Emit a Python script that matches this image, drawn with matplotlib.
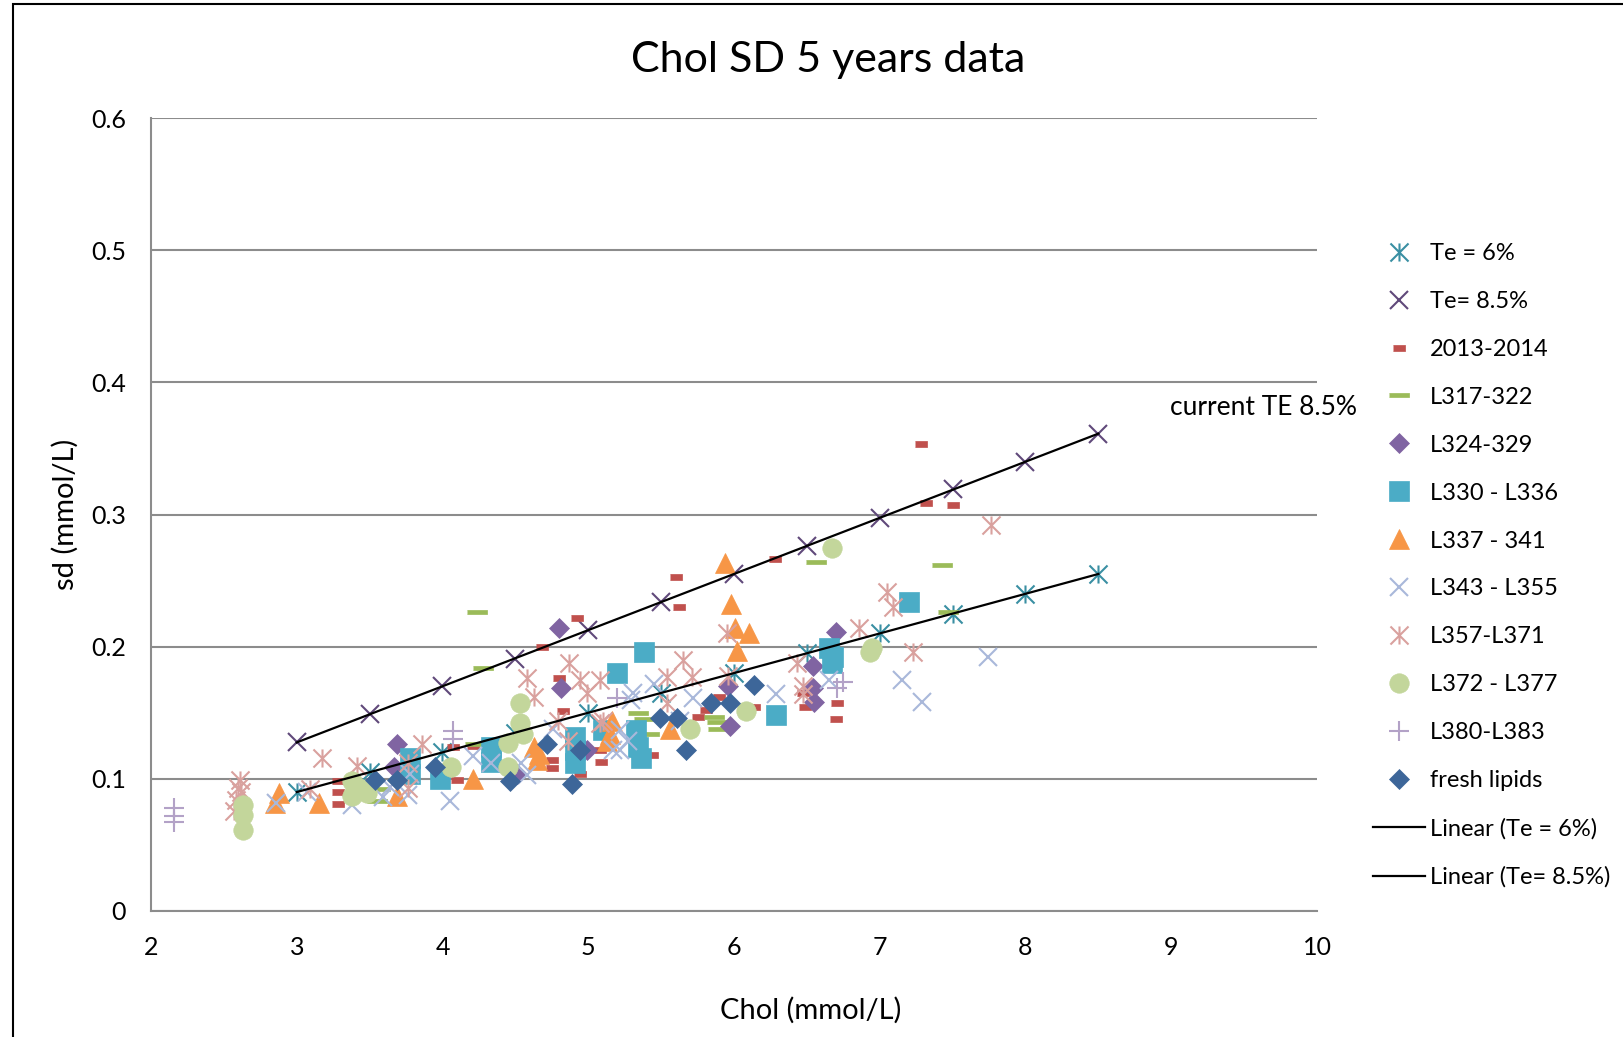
import numpy as np
import matplotlib
matplotlib.use("Agg")
import matplotlib.pyplot as plt
from matplotlib.path import Path
from matplotlib.patches import Rectangle

plt.rcParams['font.family'] = ['Lato', 'DejaVu Sans']

# data (Chol mmol/L, sd mmol/L)
te6_x = [3, 3.5, 4, 4.5, 5, 5.5, 6, 6.5, 7, 7.5, 8, 8.5]
te6_y = [0.09, 0.105, 0.12, 0.135, 0.15, 0.165, 0.18, 0.195, 0.21, 0.225, 0.24, 0.255]
te85_x = [3, 3.5, 4, 4.5, 5, 5.5, 6, 6.5, 7, 7.5, 8, 8.5]
te85_y = [0.1275, 0.149, 0.17, 0.191, 0.2125, 0.234, 0.255, 0.276, 0.2975, 0.319, 0.34, 0.361]

y1314_x = [3.28, 3.28, 3.28, 4.07, 4.10, 4.21, 4.68, 4.75, 4.75, 4.80, 4.83, 4.92, 4.94, 5.08, 5.09,
           5.44, 5.60, 5.62, 5.75, 5.81, 5.90, 6.14, 6.28, 6.47, 6.49, 6.71, 6.70, 7.28, 7.32, 7.50]
y1314_y = [0.098, 0.090, 0.081, 0.124, 0.099, 0.125, 0.200, 0.114, 0.108, 0.176, 0.151, 0.222, 0.104, 0.122, 0.113,
           0.118, 0.253, 0.230, 0.147, 0.152, 0.162, 0.154, 0.266, 0.165, 0.154, 0.157, 0.145, 0.353, 0.309, 0.307]

l317_x = [3.57, 3.55, 4.22, 4.24, 4.28, 5.34, 5.38, 5.42, 5.86, 5.88, 5.89, 6.56, 7.43, 7.47]
l317_y = [0.092, 0.083, 0.126, 0.226, 0.184, 0.150, 0.145, 0.134, 0.147, 0.143, 0.138, 0.264, 0.262, 0.226]

l324_x = [3.69, 3.67, 4.51, 4.80, 4.81, 4.99, 5.96, 5.97, 6.54, 6.54, 6.55, 6.70]
l324_y = [0.126, 0.109, 0.104, 0.214, 0.169, 0.122, 0.170, 0.140, 0.185, 0.169, 0.158, 0.211]

l330_x = [3.78, 3.78, 3.98, 4.33, 4.33, 4.91, 4.91, 4.91, 5.10, 5.20, 5.33, 5.34, 5.36, 5.38,
          6.29, 6.65, 6.68, 6.67, 7.20]
l330_y = [0.116, 0.104, 0.100, 0.124, 0.113, 0.132, 0.122, 0.112, 0.137, 0.180, 0.137, 0.124, 0.116, 0.196,
          0.148, 0.199, 0.192, 0.188, 0.234]

l337_x = [2.85, 2.88, 3.15, 3.69, 4.21, 4.63, 4.65, 4.66, 5.13, 5.16, 5.15, 5.56, 5.94, 5.98, 6.01, 6.10, 6.02]
l337_y = [0.082, 0.089, 0.082, 0.087, 0.100, 0.124, 0.114, 0.119, 0.129, 0.144, 0.134, 0.138, 0.263, 0.232,
          0.214, 0.210, 0.197]

l343_x = [2.86, 3.07, 3.38, 3.59, 3.64, 3.76, 3.78, 4.05, 4.21, 4.33, 4.54, 4.58, 4.76, 5.17, 5.22, 5.22,
          5.27, 5.29, 5.31, 5.45, 5.63, 5.72, 6.29, 6.65, 7.15, 7.29, 7.74]
l343_y = [0.082, 0.090, 0.080, 0.086, 0.094, 0.088, 0.104, 0.083, 0.117, 0.112, 0.112, 0.103, 0.138, 0.122,
          0.137, 0.122, 0.129, 0.160, 0.165, 0.172, 0.144, 0.161, 0.164, 0.175, 0.175, 0.158, 0.192]

l357_x = [2.61, 2.60, 2.58, 2.57, 2.62, 3.09, 3.17, 3.41, 3.76, 3.76, 3.86, 4.58, 4.63, 4.79, 4.86, 4.87,
          4.94, 4.99, 5.08, 5.08, 5.10, 5.54, 5.54, 5.65, 5.71, 5.95, 5.96, 6.43, 6.47, 6.47, 6.86, 7.05,
          7.09, 7.23, 7.76]
l357_y = [0.099, 0.093, 0.084, 0.076, 0.090, 0.092, 0.116, 0.110, 0.112, 0.093, 0.126, 0.176, 0.162, 0.144,
          0.129, 0.188, 0.175, 0.165, 0.175, 0.142, 0.144, 0.177, 0.157, 0.190, 0.177, 0.210, 0.178, 0.188,
          0.170, 0.164, 0.214, 0.241, 0.230, 0.196, 0.292]

l372_x = [2.63, 2.63, 2.63, 3.38, 3.38, 3.48, 3.43, 4.06, 4.45, 4.45, 4.53, 4.53, 4.55, 5.70, 6.08,
          6.67, 6.93, 6.95]
l372_y = [0.080, 0.073, 0.061, 0.098, 0.087, 0.089, 0.093, 0.109, 0.127, 0.109, 0.157, 0.142, 0.134, 0.138,
          0.151, 0.275, 0.196, 0.199]

l380_x = [2.16, 2.16, 2.16, 4.07, 4.07, 5.20, 6.71, 6.75]
l380_y = [0.078, 0.072, 0.067, 0.136, 0.130, 0.161, 0.169, 0.173]

fresh_x = [3.54, 3.69, 3.95, 4.46, 4.72, 4.89, 4.94, 5.49, 5.61, 5.67, 5.84, 5.97, 6.14]
fresh_y = [0.099, 0.099, 0.109, 0.098, 0.126, 0.096, 0.122, 0.146, 0.146, 0.122, 0.157, 0.157, 0.171]

# excel style markers
star = Path([(0, -1), (0, 1), (-1, -1), (1, 1), (-1, 1), (1, -1)],
            [Path.MOVETO, Path.LINETO] * 3)
short_dash = [(-1, -0.5), (1, -0.5), (1, 0.5), (-1, 0.5)]
long_dash = [(-1, -0.25), (1, -0.25), (1, 0.25), (-1, 0.25)]

fig = plt.figure(figsize=(16.24, 10.37), dpi=100)
ax = fig.add_axes([151 / 1624, 1 - 911 / 1037, 1166 / 1624, 793 / 1037])

# frame round the chart
fig.patches.append(Rectangle((13 / 1624, -0.1), 1.2, 0.1 + 1 - 4 / 1037, transform=fig.transFigure,
                             fill=False, edgecolor='black', lw=1.5))


def line_series(x, y, marker, color, ms, label, mew=1.5):
    return ax.plot(x, y, ls='none', marker=marker, ms=ms, mfc='none', mec=color, mew=mew, label=label)[0]


def fill_series(x, y, marker, color, ms, label):
    return ax.plot(x, y, ls='none', marker=marker, ms=ms, mfc=color, mec=color, mew=0.5, label=label)[0]


handles = []
handles.append(line_series(te6_x, te6_y, star, '#3A8FA3', 13, 'Te = 6%'))
handles.append(line_series(te85_x, te85_y, 'x', '#60497A', 13, 'Te= 8.5%'))
handles.append(fill_series(y1314_x, y1314_y, short_dash, '#C0504D', 8, '2013-2014'))
handles.append(fill_series(l317_x, l317_y, long_dash, '#9BBB59', 14, 'L317-322'))
handles.append(fill_series(l324_x, l324_y, 'D', '#8064A2', 10, 'L324-329'))
handles.append(fill_series(l330_x, l330_y, 's', '#4BACC6', 14, 'L330 - L336'))
handles.append(fill_series(l337_x, l337_y, '^', '#F79646', 14, 'L337 - 341'))
handles.append(line_series(l343_x, l343_y, 'x', '#A9B8DA', 13, 'L343 - L355'))
handles.append(line_series(l357_x, l357_y, star, '#D9A19E', 13, 'L357-L371'))
handles.append(fill_series(l372_x, l372_y, 'o', '#C3D69B', 14, 'L372 - L377'))
handles.append(line_series(l380_x, l380_y, '+', '#B3A2C7', 14, 'L380-L383'))
handles.append(fill_series(fresh_x, fresh_y, 'D', '#3D6699', 10, 'fresh lipids'))

# linear trendlines through the Te series
for xs, ys, lab in [(te6_x, te6_y, 'Linear (Te = 6%)'), (te85_x, te85_y, 'Linear (Te= 8.5%)')]:
    m, b = np.polyfit(xs, ys, 1)
    xx = np.array([min(xs), max(xs)])
    handles.append(ax.plot(xx, m * xx + b, color='black', lw=1.6, label=lab)[0])

ax.set_xlim(2, 10)
ax.set_ylim(0, 0.6)
ax.set_xticks(range(2, 11))
ax.set_yticks(np.arange(0, 0.61, 0.1))
ax.set_yticklabels(['0', '0.1', '0.2', '0.3', '0.4', '0.5', '0.6'])
ax.tick_params(length=0, labelsize=18, pad=18)
ax.grid(axis='y', color='#8C8C8C', lw=1.5)
ax.set_axisbelow(True)
for s in ['top', 'right']:
    ax.spines[s].set_visible(False)
for s in ['left', 'bottom']:
    ax.spines[s].set_color('#8C8C8C')
    ax.spines[s].set_linewidth(1.5)

fig.text(811 / 1624, 1 - 1010 / 1037, 'Chol (mmol/L)', fontsize=21, ha='center', va='center')
ax.set_ylabel('sd (mmol/L)', fontsize=21, labelpad=9)
fig.text(828 / 1624, 1 - 60 / 1037, 'Chol SD 5 years data', fontsize=31, ha='center', va='center')
ax.text(8.99, 0.381, 'current TE 8.5%', fontsize=19, ha='left', va='center', clip_on=False)

fig.legend(handles=handles, loc='upper left', bbox_to_anchor=(1373 / 1624, 1 - 243 / 1037),
           frameon=False, fontsize=17, numpoints=1, handlelength=2.2, handletextpad=0.2,
           labelspacing=1.14, borderpad=0, borderaxespad=0)

fig.savefig('out.png', dpi=100)
